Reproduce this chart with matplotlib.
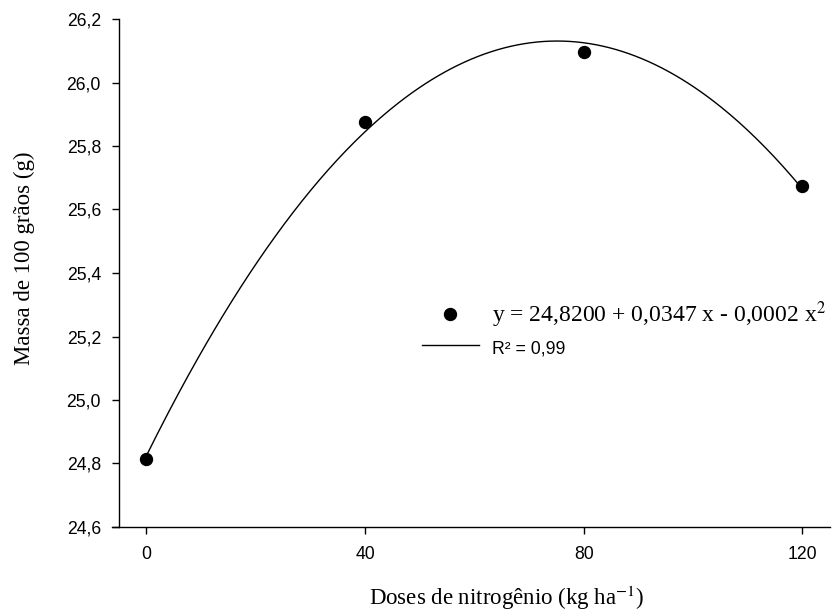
import numpy as np
import matplotlib
matplotlib.use("Agg")
import matplotlib.pyplot as plt

plt.rcParams['mathtext.fontset'] = 'stix'

# data
doses = [0, 40, 80, 120]
massa = [24.814, 25.875, 26.095, 25.675]
yticks = [24.6, 24.8, 25.0, 25.2, 25.4, 25.6, 25.8, 26.0, 26.2]
xticks = [0, 40, 80, 120]

eq_label = 'y = 24,8200 + 0,0347 x - 0,0002 x$^{2}$'
r2_label = 'R\u00b2 = 0,99'

# quadratic fit through the measured points
coef = np.polyfit(doses, massa, 2)
xfit = np.linspace(min(doses), max(doses), 300)
yfit = np.polyval(coef, xfit)

fig = plt.figure(figsize=(8.32, 6.15), dpi=100)
ax = fig.add_axes([119 / 832, 1 - 527 / 615, 710.7 / 832, 508 / 615])

pts, = ax.plot(doses, massa, 'o', color='black', ms=8.6, zorder=3)
ln, = ax.plot(xfit, yfit, '-', color='black', lw=1.0)

ax.set_xlim(-5, 125)
ax.set_ylim(24.6, 26.2)
ax.set_xticks(xticks)
ax.set_yticks(yticks)
ax.set_yticklabels([('%.1f' % v).replace('.', ',') for v in yticks])

for s in ['top', 'right']:
    ax.spines[s].set_visible(False)
for s in ['left', 'bottom']:
    ax.spines[s].set_linewidth(1.0)
ax.spines['bottom'].set_bounds(-6.3, 125)

ax.tick_params(direction='out', length=5, width=1.0, labelsize=12.7, pad=8)
ax.tick_params(axis='x', pad=9)
for lab in ax.get_xticklabels() + ax.get_yticklabels():
    lab.set_family('Liberation Sans')

ax.set_xlabel('Doses de nitrogênio (kg ha$^{-1}$)', family='Liberation Serif', fontsize=16.5)
ax.set_ylabel('Massa de 100 grãos (g)', family='Liberation Serif', fontsize=16.5)
ax.xaxis.set_label_coords(0.545, -0.112)
ax.yaxis.set_label_coords(-0.118, 0.53)

leg = ax.legend([pts, ln], [eq_label, r2_label], loc='upper left',
                bbox_to_anchor=(422 / 832, 1 - 299 / 615), bbox_transform=fig.transFigure,
                frameon=False, numpoints=1, borderpad=0, borderaxespad=0,
                handlelength=2.4, handletextpad=0.55, labelspacing=0.3,
                prop={'family': 'Liberation Serif', 'size': 17})
leg.get_texts()[1].set_family('Liberation Sans')
leg.get_texts()[1].set_fontsize(12.7)

fig.savefig('out.png', dpi=100)
